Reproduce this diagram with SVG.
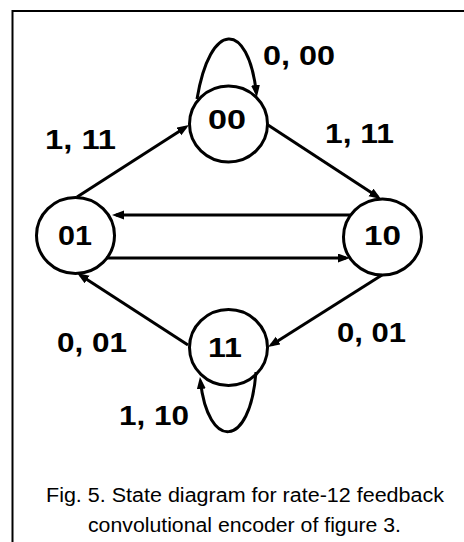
<svg xmlns="http://www.w3.org/2000/svg" width="464" height="542" viewBox="0 0 464 542">
  <style>
    .state { fill: none; stroke: #000; stroke-width: 3; }
    .edge { fill: none; stroke: #000; stroke-width: 3; }
    .lbl { font-family: "Liberation Sans", Arial, sans-serif; font-weight: bold; font-size: 28px; fill: #000; }
    .cap { font-family: "Liberation Sans", Arial, sans-serif; font-size: 19.5px; fill: #000; }
  </style>
  <defs>
    <marker id="arrow" markerUnits="userSpaceOnUse" markerWidth="14" markerHeight="10" refX="8" refY="4.5" orient="auto">
      <path d="M0,0 L12,4.5 L0,9 z" fill="#000"/>
    </marker>
  </defs>
  <rect width="464" height="542" fill="#fff"/>
  <!-- frame: left and top rules -->
  <path d="M12.5,542 V11 H464" fill="none" stroke="#000" stroke-width="2"/>

  <g id="connectors">
    <path class="edge" d="M197,99 C210,20 248,20 256.4,93" marker-end="url(#arrow)"/>
    <path class="edge" d="M77,197 L185.6,127.2" marker-end="url(#arrow)"/>
    <path class="edge" d="M268,125 L377.7,196.8" marker-end="url(#arrow)"/>
    <path class="edge" d="M350,215 L116,215" marker-end="url(#arrow)"/>
    <path class="edge" d="M106,258 L346,258" marker-end="url(#arrow)"/>
    <path class="edge" d="M382,275 L271.4,344.9" marker-end="url(#arrow)"/>
    <path class="edge" d="M188,345 L80.4,275.2" marker-end="url(#arrow)"/>
    <path class="edge" d="M256,372 C250,450 208,450 200.4,381" marker-end="url(#arrow)"/>
    <text class="lbl" x="263" y="65" textLength="72" lengthAdjust="spacingAndGlyphs">0, 00</text>
    <text class="lbl" x="45" y="149" textLength="71" lengthAdjust="spacingAndGlyphs">1, 11</text>
    <text class="lbl" x="325" y="143" textLength="69" lengthAdjust="spacingAndGlyphs">1, 11</text>
    <text class="lbl" x="57" y="352" textLength="70" lengthAdjust="spacingAndGlyphs">0, 01</text>
    <text class="lbl" x="337" y="342" textLength="69" lengthAdjust="spacingAndGlyphs">0, 01</text>
    <text class="lbl" x="119" y="425" textLength="70" lengthAdjust="spacingAndGlyphs">1, 10</text>
  </g>

  <g id="state-00">
    <ellipse class="state" cx="228.5" cy="124" rx="39" ry="38"/>
    <text class="lbl" x="208" y="129" textLength="38" lengthAdjust="spacingAndGlyphs">00</text>
  </g>
  <g id="state-01">
    <ellipse class="state" cx="75.5" cy="235.5" rx="39" ry="38"/>
    <text class="lbl" x="58" y="245" textLength="34" lengthAdjust="spacingAndGlyphs">01</text>
  </g>
  <g id="state-10">
    <ellipse class="state" cx="382.5" cy="237" rx="39" ry="38"/>
    <text class="lbl" x="364" y="245" textLength="37" lengthAdjust="spacingAndGlyphs">10</text>
  </g>
  <g id="state-11">
    <ellipse class="state" cx="228.5" cy="347.5" rx="39" ry="38"/>
    <text class="lbl" x="208" y="357" textLength="34" lengthAdjust="spacingAndGlyphs">11</text>
  </g>

  <g id="caption">
    <text class="cap" x="46" y="502" textLength="398" lengthAdjust="spacingAndGlyphs">Fig. 5. State diagram for rate-12 feedback</text>
    <text class="cap" x="88" y="532" textLength="313" lengthAdjust="spacingAndGlyphs">convolutional encoder of figure 3.</text>
  </g>
</svg>
